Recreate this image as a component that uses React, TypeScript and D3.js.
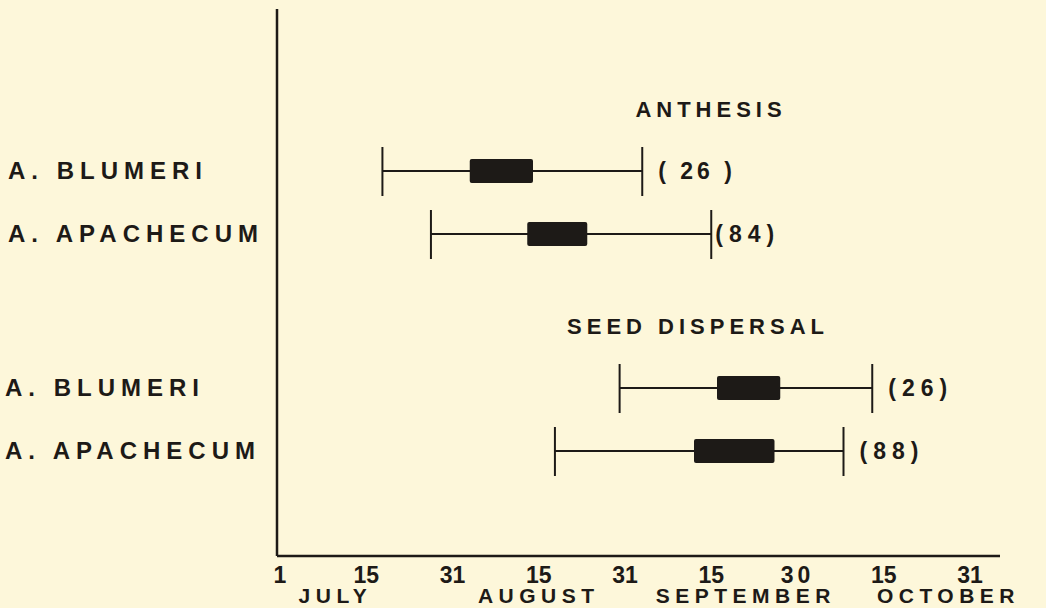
import * as d3 from "d3"
import { useEffect, useRef } from "react"

// days counted from 1 July
const tickDays = [0, 14, 30, 45, 61, 76, 91, 106, 122]
const tickLabels = ["1", "15", "31", "15", "31", "15", "30", "15", "31"]
const months = ["JULY", "AUGUST", "SEPTEMBER", "OCTOBER"]
const monthDays = [9, 45, 82, 118]

const groups = ["ANTHESIS", "SEED DISPERSAL"]
const species = ["A. BLUMERI", "A. APACHECUM"]

// [min, box start, box end, max] in days, per group then species
const anthesisStats = [
  [17, 33, 44, 64],
  [26, 43, 54, 76],
]
const dispersalStats = [
  [60, 77, 88, 104],
  [48, 73, 87, 99],
]
const anthesisN = ["( 26 )", "(84)"]
const dispersalN = ["(26)", "(88)"]

const W = 1046
const H = 608
const ink = "#1d1a17"
const font = "'Liberation Sans', Arial, sans-serif"

const App = () => {
  const ref = useRef<SVGSVGElement>(null)

  useEffect(() => {
    const svg = d3.select(ref.current)
    svg.selectAll("*").remove()

    svg.append("rect").attr("width", W).attr("height", H).attr("fill", "#fdf7da")

    const axisX = 277
    const axisY = 556

    const x = d3
      .scaleLinear()
      .domain(tickDays)
      .range(tickDays.map((_, i) => 280 + (i * (970 - 280)) / (tickDays.length - 1)))

    const gy = d3.scalePoint().domain(groups).range([171, 388])
    const sy = d3.scalePoint().domain(species).range([0, 63])

    // axes
    svg
      .append("line")
      .attr("x1", axisX)
      .attr("x2", axisX)
      .attr("y1", 9)
      .attr("y2", axisY)
      .attr("stroke", ink)
      .attr("stroke-width", 2.5)
    svg
      .append("line")
      .attr("x1", axisX)
      .attr("x2", 1000)
      .attr("y1", axisY)
      .attr("y2", axisY)
      .attr("stroke", ink)
      .attr("stroke-width", 2.5)

    svg
      .selectAll("text.tick")
      .data(tickDays)
      .enter()
      .append("text")
      .attr("class", "tick")
      .attr("x", (d) => x(d))
      .attr("y", 583)
      .attr("text-anchor", "middle")
      .attr("font-family", font)
      .attr("font-weight", "bold")
      .attr("font-size", 23)
      .attr("fill", ink)
      .attr("letter-spacing", (_, i) => (tickLabels[i] === "30" ? 4 : 0))
      .text((_, i) => tickLabels[i])

    svg
      .selectAll("text.month")
      .data(months)
      .enter()
      .append("text")
      .attr("class", "month")
      .attr("x", (_, i) => x(monthDays[i]))
      .attr("y", 603)
      .attr("text-anchor", "middle")
      .attr("font-family", font)
      .attr("font-weight", "bold")
      .attr("font-size", 21)
      .attr("letter-spacing", 5.5)
      .attr("fill", ink)
      .text((d) => d)

    const allStats = [anthesisStats, dispersalStats]
    const allN = [anthesisN, dispersalN]

    groups.forEach((grp, gi) => {
      const y0 = gy(grp)!
      svg
        .append("text")
        .attr("x", gi === 0 ? 711 : 698)
        .attr("y", y0 - 54)
        .attr("text-anchor", "middle")
        .attr("font-family", font)
        .attr("font-weight", "bold")
        .attr("font-size", 22)
        .attr("letter-spacing", 5)
        .attr("fill", ink)
        .text(grp)

      species.forEach((sp, si) => {
        const y = y0 + sy(sp)!
        const [lo, q1, q3, hi] = allStats[gi][si]
        const g = svg.append("g")

        g.append("text")
          .attr("x", gi === 0 ? 8 : 5)
          .attr("y", y + 8)
          .attr("font-family", font)
          .attr("font-weight", "bold")
          .attr("font-size", 24)
          .attr("letter-spacing", 6)
          .attr("fill", ink)
          .text(sp)

        g.append("line")
          .attr("x1", x(lo))
          .attr("x2", x(hi))
          .attr("y1", y)
          .attr("y2", y)
          .attr("stroke", ink)
          .attr("stroke-width", 2)
        ;[lo, hi].forEach((v) => {
          g.append("line")
            .attr("x1", x(v))
            .attr("x2", x(v))
            .attr("y1", y - 24)
            .attr("y2", y + 25)
            .attr("stroke", ink)
            .attr("stroke-width", 2)
        })
        g.append("rect")
          .attr("x", x(q1))
          .attr("y", y - 12)
          .attr("width", x(q3) - x(q1))
          .attr("height", 24)
          .attr("rx", 2)
          .attr("fill", ink)

        g.append("text")
          .attr("x", x(hi) + (si === 1 && gi === 0 ? 4 : 16))
          .attr("y", y + 8)
          .attr("font-family", font)
          .attr("font-weight", "bold")
          .attr("font-size", 23)
          .attr("letter-spacing", si === 0 && gi === 0 ? 4 : 6)
          .attr("fill", ink)
          .text(allN[gi][si])
      })
    })
  }, [])

  return (
    <svg
      ref={ref}
      width={W}
      height={H}
      style={{ position: "absolute", left: 0, top: 0, display: "block" }}
    />
  )
}

export default App
